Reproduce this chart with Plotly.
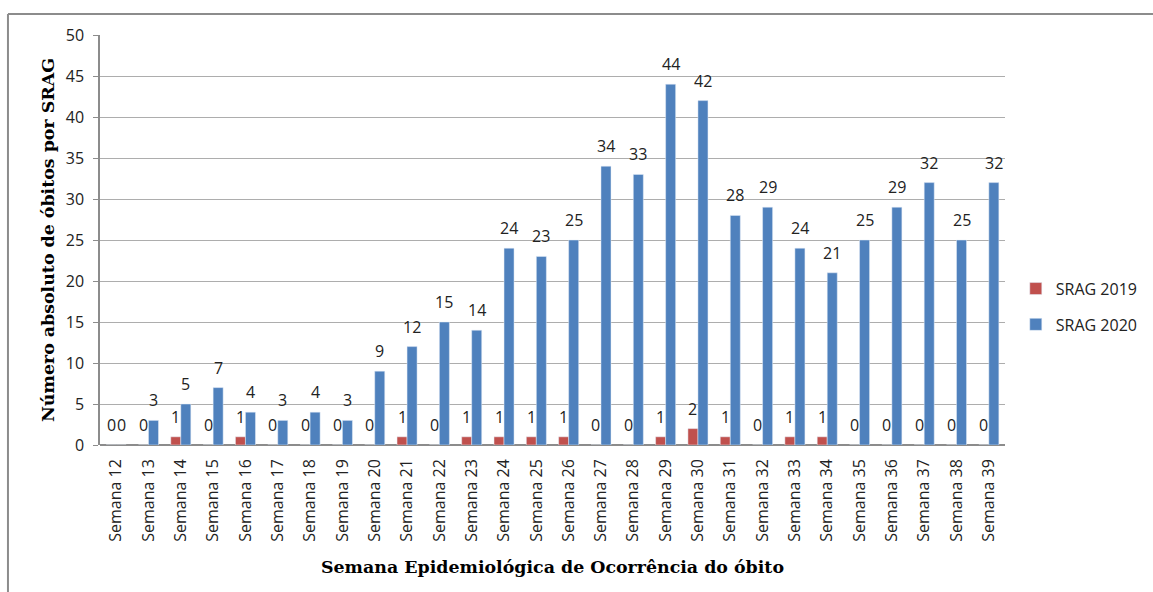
import plotly.graph_objects as go

semanas = [f"Semana {i}" for i in range(12, 40)]
srag_2019 = [0, 0, 1, 0, 1, 0, 0, 0, 0, 1, 0, 1, 1, 1, 1, 0, 0, 1, 2, 1, 0, 1, 1, 0, 0, 0, 0, 0]
srag_2020 = [0, 3, 5, 7, 4, 3, 4, 3, 9, 12, 15, 14, 24, 23, 25, 34, 33, 44, 42, 28, 29, 24, 21, 25, 29, 32, 25, 32]

RED = "#C0504D"
BLUE = "#4F81BD"
TICK_FONT = dict(family="Open Sans", size=16, color="#222222")
TITLE_FONT = dict(family="DejaVu Serif", size=17.4, color="#000000")

fig = go.Figure()
fig.add_trace(go.Bar(name="SRAG 2019", x=semanas, y=srag_2019, marker_color=RED,
                     legendgroup="a"))
fig.add_trace(go.Bar(name="SRAG 2020", x=semanas, y=srag_2020, marker_color=BLUE,
                     legendgroup="b"))

annotations = []
for series, shift in ((srag_2019, -5), (srag_2020, 5)):
    for cat, val in zip(semanas, series):
        annotations.append(dict(x=cat, y=val, text=str(val), showarrow=False,
                                xref="x", yref="y", xanchor="center", yanchor="bottom",
                                xshift=shift, yshift=7, font=TICK_FONT))

fig.update_layout(
    width=1153, height=592,
    margin=dict(l=100, r=148, t=35, b=147, autoexpand=False),
    paper_bgcolor="white", plot_bgcolor="white",
    barmode="group", bargap=0.38, bargroupgap=0,
    showlegend=True,
    legend=dict(xref="container", yref="container", x=0.881, y=0.482,
                xanchor="left", yanchor="middle",
                font=dict(family="Open Sans", size=16, color="#222222"),
                tracegroupgap=12, bgcolor="rgba(0,0,0,0)"),
    annotations=annotations,
    xaxis=dict(
        tickangle=-90, tickfont=TICK_FONT, showgrid=False, showline=False,
        ticks="", ticklabelstandoff=10,
        title=dict(text="<b>Semana Epidemiológica de Ocorrência do óbito</b>",
                   font=TITLE_FONT, standoff=19),
    ),
    yaxis=dict(
        range=[0, 50], dtick=5, tickfont=TICK_FONT,
        showgrid=True, gridcolor="#ADADAD", gridwidth=1,
        showline=True, linecolor="#8C8C8C", linewidth=1.5,
        ticks="outside", ticklen=5, tickcolor="#8C8C8C", ticklabelstandoff=6,
        zeroline=True, zerolinecolor="#8C8C8C", zerolinewidth=1.5,
        title=dict(text="<b>Número absoluto de óbitos por SRAG</b>",
                   font=TITLE_FONT, standoff=7),
    ),
    shapes=[
        dict(type="line", xref="paper", yref="paper", x0=-0.1017, x1=1.17, y0=1.0512, y1=1.0512,
             line=dict(color="#8C8C8C", width=2)),
        dict(type="line", xref="paper", yref="paper", x0=-0.1017, x1=-0.1017, y0=1.0512, y1=-0.37,
             line=dict(color="#8C8C8C", width=2)),
    ],
)

fig.write_html("out.html", config={"displayModeBar": False},
               post_script="document.body.style.margin='0';")
